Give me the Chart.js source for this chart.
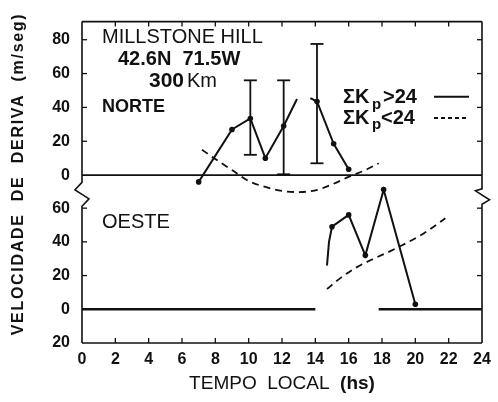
<!DOCTYPE html>
<html><head><meta charset="utf-8">
<script src="https://cdn.jsdelivr.net/npm/chart.js@4.4.1/dist/chart.umd.min.js"></script>
<style>html,body{margin:0;padding:0;background:#fff}</style>
</head><body>
<canvas id="c" width="498" height="402"></canvas>
<script>
// ---- tick labels ----
const hourTicks = [0,2,4,6,8,10,12,14,16,18,20,22,24];
const hourTickLabels = ['0','2','4','6','8','10','12','14','16','18','20','22','24'];
const northTicks = [0,20,40,60,80];
const northTickLabels = ['0','20','40','60','80'];
const westTicks = [-20,0,20,40,60];
const westTickLabels = ['20','0','20','40','60'];

// ---- NORTE, ΣKp>24 (solid) ----
const northHighX = [7, 9, 10.1, 11, 12.1, 12.9, null, 13.7, 14.1, 15.1, 16];
const northHighY = [-4, 27, 33.5, 10, 29, 45, null, 45.5, 43.5, 18.5, 3.5];
const northHighDot = [1, 1, 1, 1, 1, 0, 0, 0, 1, 1, 1];
// error bars
const errX = [10.1, 12.1, 14.1];
const errLow = [12, 0.5, 7];
const errHigh = [56, 56, 77.5];
// ---- NORTE, ΣKp<24 (dashed) ----
const northLowX = [7.2, 8, 9, 10, 11, 12, 12.9, 14, 15, 16, 17, 17.8];
const northLowY = [15, 9.5, 3, -3.5, -7, -9.3, -10, -9, -5.5, -1, 3, 7];
// ---- OESTE, ΣKp>24 (solid) ----
const westHighX = [14.7, 14.82, 15, 16, 17, 18.1, 20];
const westHighY = [26, 40, 49, 56, 32, 71, 3];
const westHighDot = [0, 0, 1, 1, 1, 1, 1];
// ---- OESTE, ΣKp<24 (dashed) ----
const westLowX = [14.7, 15.5, 16.5, 17.5, 18.5, 19.5, 20.5, 21.8];
const westLowY = [12, 18.5, 25, 30, 34.5, 39.5, 45, 54];
// ---- zero lines ----
const northZeroX = [0, 24];
const northZeroY = [0, 0];
const westZeroX = [0, 14, null, 17.8, 24];
const westZeroY = [0, 0, null, 0, 0];

const INK = '#111';
const pts = (xs, ys) => xs.map((x, i) => ({x: x === null ? NaN : x, y: ys[i]}));

const datasets = [];
datasets.push({data: pts(northZeroX, northZeroY), yAxisID: 'yN', borderColor: INK, borderWidth: 1.6, pointRadius: 0});
datasets.push({data: pts(westZeroX, westZeroY), yAxisID: 'yW', borderColor: INK, borderWidth: 2.6, pointRadius: 0, spanGaps: false});
datasets.push({data: pts(northHighX, northHighY), yAxisID: 'yN', borderColor: INK, borderWidth: 2, spanGaps: false,
  pointRadius: northHighDot.map(d => d ? 2.8 : 0), pointBackgroundColor: INK, pointBorderWidth: 0});
errX.forEach((x, i) => {
  datasets.push({data: [{x: x, y: errLow[i]}, {x: x, y: errHigh[i]}], yAxisID: 'yN', borderColor: INK, borderWidth: 1.8,
    pointStyle: 'line', pointRadius: 6.5, pointBorderWidth: 1.8, pointBorderColor: INK});
});
datasets.push({data: pts(northLowX, northLowY), yAxisID: 'yN', borderColor: INK, borderWidth: 1.8, borderDash: [7, 5],
  pointRadius: 0, tension: 0.4, cubicInterpolationMode: 'monotone'});
datasets.push({data: pts(westHighX, westHighY), yAxisID: 'yW', borderColor: INK, borderWidth: 2,
  pointRadius: westHighDot.map(d => d ? 2.8 : 0), pointBackgroundColor: INK, pointBorderWidth: 0});
datasets.push({data: pts(westLowX, westLowY), yAxisID: 'yW', borderColor: INK, borderWidth: 1.8, borderDash: [7, 5],
  pointRadius: 0, tension: 0.4, cubicInterpolationMode: 'monotone'});
datasets.forEach(d => { d.clip = false; d.xAxisID = 'x'; d.fill = false; });

const tickFont = {family: 'Liberation Sans', size: 16, weight: 'bold'};

function setTicks(values) { return s => { s.ticks = values.map(v => ({value: v})); }; }

const framePlugin = {
  id: 'frame',
  afterDraw(chart) {
    const ctx = chart.ctx;
    const a = chart.chartArea;
    const xs = chart.scales.x, yN = chart.scales.yN, yW = chart.scales.yW;
    const L = a.left, R = a.right, T = a.top, B = a.bottom;
    const b = yN.bottom;
    ctx.save();
    ctx.strokeStyle = INK; ctx.fillStyle = INK;
    ctx.lineWidth = 1.6; ctx.lineJoin = 'miter';
    // top and bottom borders
    ctx.beginPath(); ctx.moveTo(L, T); ctx.lineTo(R, T); ctx.stroke();
    ctx.beginPath(); ctx.moveTo(L, B); ctx.lineTo(R, B); ctx.stroke();
    // left border with break
    ctx.beginPath(); ctx.moveTo(L, T); ctx.lineTo(L, b - 10);
    ctx.lineTo(L - 7, b - 2.5); ctx.lineTo(L + 7, b + 6.5); ctx.lineTo(L, b + 14); ctx.lineTo(L, B); ctx.stroke();
    // right border with break
    ctx.beginPath(); ctx.moveTo(R, T); ctx.lineTo(R, b - 3.5);
    ctx.lineTo(R - 6.5, b - 1.5); ctx.lineTo(R + 7.5, b + 7.5); ctx.lineTo(R, b + 12); ctx.lineTo(R, B); ctx.stroke();
    // inward ticks
    ctx.lineWidth = 1.3;
    hourTicks.forEach(h => {
      if (h === 0 || h === 24) return;
      const px = xs.getPixelForValue(h);
      ctx.beginPath(); ctx.moveTo(px, T); ctx.lineTo(px, T + 5); ctx.stroke();
      ctx.beginPath(); ctx.moveTo(px, B); ctx.lineTo(px, B - 5); ctx.stroke();
    });
    northTicks.forEach(v => {
      if (v === 0) return;
      const py = yN.getPixelForValue(v);
      ctx.beginPath(); ctx.moveTo(L, py); ctx.lineTo(L + 5, py); ctx.stroke();
      ctx.beginPath(); ctx.moveTo(R, py); ctx.lineTo(R - 5, py); ctx.stroke();
    });
    westTicks.forEach(v => {
      if (v <= 0) return;
      const py = yW.getPixelForValue(v);
      ctx.beginPath(); ctx.moveTo(L, py); ctx.lineTo(L + 5, py); ctx.stroke();
      ctx.beginPath(); ctx.moveTo(R, py); ctx.lineTo(R - 5, py); ctx.stroke();
    });
    // legend samples
    ctx.lineWidth = 2;
    ctx.beginPath(); ctx.moveTo(434, 96.7); ctx.lineTo(469, 96.7); ctx.stroke();
    ctx.setLineDash([4, 3]); ctx.lineWidth = 1.8;
    ctx.beginPath(); ctx.moveTo(434, 118); ctx.lineTo(469, 118); ctx.stroke();
    ctx.setLineDash([]);
    // annotation texts
    ctx.textAlign = 'left'; ctx.textBaseline = 'alphabetic';
    ctx.font = '20px "Liberation Sans"'; ctx.fillText('MILLSTONE HILL', 102, 43);
    ctx.font = 'bold 20px "Liberation Sans"'; ctx.fillText('42.6N  71.5W', 118, 65);
    ctx.font = 'bold 21px "Liberation Sans"'; ctx.fillText('300', 149, 87);
    ctx.font = '20px "Liberation Sans"'; ctx.fillText('Km', 187, 87);
    ctx.font = 'bold 18px "Liberation Sans"'; ctx.fillText('NORTE', 102, 112);
    ctx.font = '20px "Liberation Sans"'; ctx.fillText('OESTE', 102, 228);
    // legend text
    ctx.font = 'bold 20px "Liberation Sans"'; ctx.fillText('ΣK', 343, 103); ctx.fillText('>24', 383, 103);
    ctx.fillText('ΣK', 343, 123.5); ctx.fillText('<24', 381, 123.5);
    ctx.font = 'bold 15px "Liberation Sans"'; ctx.fillText('p', 372, 108.5); ctx.fillText('p', 372, 129);
    // x title
    ctx.font = '19px "Liberation Sans"';
    const t1 = 'TEMPO  LOCAL  ';
    const w1 = ctx.measureText(t1).width;
    ctx.font = 'bold 19px "Liberation Sans"';
    const w2 = ctx.measureText('(hs)').width;
    const cx = (L + R) / 2;
    const x0 = cx - (w1 + w2) / 2;
    ctx.font = '19px "Liberation Sans"'; ctx.fillText(t1, x0, 388.5);
    ctx.font = 'bold 19px "Liberation Sans"'; ctx.fillText('(hs)', x0 + w1, 388.5);
    // y title
    ctx.save();
    ctx.translate(19, 174); ctx.rotate(-Math.PI / 2);
    ctx.font = 'bold 16px "Liberation Sans"';
    ctx.letterSpacing = '1.7px';
    ctx.textAlign = 'center'; ctx.textBaseline = 'middle';
    ctx.fillText('VELOCIDADE  DE  DERIVA  (m/seg)', 0, 0);
    ctx.restore();
    ctx.restore();
  }
};

new Chart(document.getElementById('c'), {
  type: 'line',
  data: {datasets},
  options: {
    responsive: false, animation: false, parsing: true,
    layout: {padding: {top: 6, right: 16, left: 0, bottom: 0}},
    plugins: {legend: {display: false}, tooltip: {enabled: false}},
    scales: {
      x: {type: 'linear', position: 'bottom', min: 0, max: 24,
        afterBuildTicks: setTicks(hourTicks),
        afterFit: s => { s.height = 59; },
        ticks: {callback: (v, i) => hourTickLabels[i], font: tickFont, color: INK, padding: 7, maxRotation: 0, autoSkip: false},
        grid: {display: false, drawTicks: false}, border: {display: false}},
      yW: {type: 'linear', position: 'left', stack: 'v', stackWeight: 158, min: -20, max: 69.4,
        afterBuildTicks: setTicks(westTicks),
        afterFit: s => { s.width = 82; },
        ticks: {callback: (v, i) => westTickLabels[i], font: tickFont, color: INK, padding: 12, autoSkip: false},
        grid: {display: false, drawTicks: false}, border: {display: false}},
      yN: {type: 'linear', position: 'left', stack: 'v', stackWeight: 179, min: -10.15, max: 90.7,
        afterBuildTicks: setTicks(northTicks),
        afterFit: s => { s.width = 82; },
        ticks: {callback: (v, i) => northTickLabels[i], font: tickFont, color: INK, padding: 12, autoSkip: false},
        grid: {display: false, drawTicks: false}, border: {display: false}}
    }
  },
  plugins: [framePlugin]
});
</script>
</body></html>
